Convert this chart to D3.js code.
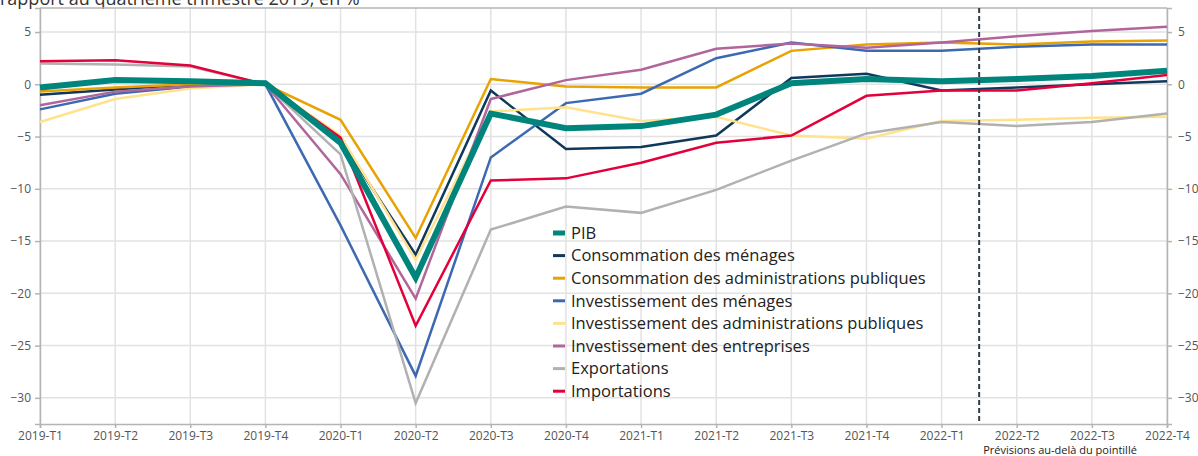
<!DOCTYPE html>
<html>
<head>
<meta charset="utf-8">
<script src="https://cdn.jsdelivr.net/npm/d3@7"></script>
<style>
  body { margin: 0; background: #fff; }
  svg { display: block; font-family: "Open Sans", sans-serif; }
</style>
</head>
<body>
<svg id="chart" width="1198" height="456"></svg>
<script>
// trimestres
var quarters = ["2019-T1", "2019-T2", "2019-T3", "2019-T4",
                "2020-T1", "2020-T2", "2020-T3", "2020-T4",
                "2021-T1", "2021-T2", "2021-T3", "2021-T4",
                "2022-T1", "2022-T2", "2022-T3", "2022-T4"];

var yTicks = [5, 0, -5, -10, -15, -20, -25, -30];

// écarts par rapport au 2019-T4, en %
var pib       = [-0.3, 0.4, 0.3, 0.1, -5.6, -18.5, -2.8, -4.2, -4.0, -2.9, 0.1, 0.5, 0.3, 0.5, 0.8, 1.3];
var consoMen  = [-1.0, -0.5, 0.0, 0.0, -5.3, -16.3, -0.6, -6.2, -6.0, -4.9, 0.6, 1.0, -0.6, -0.3, 0.0, 0.3];
var consoAdm  = [-0.7, -0.3, 0.0, 0.0, -3.4, -14.7, 0.5, -0.2, -0.3, -0.3, 3.2, 3.8, 4.0, 3.8, 4.1, 4.2];
var invMen    = [-2.4, -0.9, -0.2, 0.0, -13.5, -27.9, -7.0, -1.8, -0.9, 2.5, 4.0, 3.2, 3.2, 3.6, 3.8, 3.8];
var invAdm    = [-3.6, -1.4, -0.4, 0.0, -4.9, -16.8, -2.6, -2.2, -3.5, -3.1, -4.9, -5.2, -3.5, -3.4, -3.2, -3.1];
var invEnt    = [-2.0, -0.7, -0.2, 0.0, -8.6, -20.5, -1.4, 0.4, 1.4, 3.4, 3.9, 3.5, 4.0, 4.6, 5.1, 5.5];
var exportsV  = [2.0, 1.9, 1.7, 0.0, -6.7, -30.5, -13.9, -11.7, -12.3, -10.1, -7.3, -4.7, -3.6, -4.0, -3.6, -2.8];
var importsV  = [2.2, 2.3, 1.8, 0.0, -5.1, -23.1, -9.2, -9.0, -7.5, -5.6, -4.9, -1.1, -0.6, -0.6, 0.1, 0.9];

var series = [
  {name: "PIB", values: pib, color: "#00857d", width: 6},
  {name: "Consommation des ménages", values: consoMen, color: "#10385a", width: 2.5},
  {name: "Consommation des administrations publiques", values: consoAdm, color: "#e8a202", width: 2.5},
  {name: "Investissement des ménages", values: invMen, color: "#3d69b3", width: 2.5},
  {name: "Investissement des administrations publiques", values: invAdm, color: "#ffe38c", width: 2.5},
  {name: "Investissement des entreprises", values: invEnt, color: "#b0669b", width: 2.5},
  {name: "Exportations", values: exportsV, color: "#b1b1b1", width: 2.5},
  {name: "Importations", values: importsV, color: "#e3003b", width: 2.5}
];

var svg = d3.select("#chart");
var mLeft = 40, mRight = 1167, mTop = 8, mBottom = 424;

var x = d3.scaleLinear().domain([0, quarters.length - 1]).range([mLeft, mRight]);
var y = d3.scaleLinear().domain([-32.5, 7.3]).range([mBottom, mTop]);

// titre (coupé en haut, comme l'original)
svg.append("text")
  .attr("x", 0).attr("y", 5)
  .attr("font-size", 18).attr("fill", "#333")
  .text("rapport au quatrième trimestre 2019, en %");

// grille
svg.append("g").selectAll("line").data(yTicks).join("line")
  .attr("x1", mLeft).attr("x2", mRight)
  .attr("y1", function(d) { return y(d); }).attr("y2", function(d) { return y(d); })
  .attr("stroke", "#e2e2e2").attr("stroke-width", 1.5);

svg.append("g").selectAll("line").data(quarters).join("line")
  .attr("x1", function(d, i) { return x(i); }).attr("x2", function(d, i) { return x(i); })
  .attr("y1", mTop).attr("y2", mBottom)
  .attr("stroke", "#e2e2e2").attr("stroke-width", 1.5);

// axes
var fmt = function(d) { return d < 0 ? "\u2212" + Math.abs(d) : d; };

var gl = svg.append("g").attr("transform", "translate(" + mLeft + ",0)")
  .call(d3.axisLeft(y).tickValues(yTicks).tickFormat(fmt).tickSize(5).tickPadding(4));
var gr = svg.append("g").attr("transform", "translate(" + mRight + ",0)")
  .call(d3.axisRight(y).tickValues(yTicks).tickFormat(fmt).tickSize(5).tickPadding(6));
var gb = svg.append("g").attr("transform", "translate(0," + mBottom + ")")
  .call(d3.axisBottom(x).tickValues(d3.range(quarters.length))
    .tickFormat(function(i) { return quarters[i]; }).tickSize(4).tickPadding(3));

[gl, gr, gb].forEach(function(g) {
  g.select(".domain").attr("stroke", "#b4b4b4").attr("stroke-width", 1.5);
  g.selectAll(".tick line").attr("stroke", "#b4b4b4").attr("stroke-width", 1.5);
  g.selectAll(".tick text").attr("fill", "#555").attr("font-size", 12)
    .attr("font-family", "Open Sans, sans-serif");
});

svg.append("line")
  .attr("x1", mLeft).attr("x2", mRight).attr("y1", mTop).attr("y2", mTop)
  .attr("stroke", "#b4b4b4").attr("stroke-width", 1.5);

// lignes
var line = d3.line()
  .x(function(d, i) { return x(i); })
  .y(function(d) { return y(d); });

var drawOrder = series.slice(1).concat([series[0]]);
svg.append("g").selectAll("path").data(drawOrder).join("path")
  .attr("d", function(d) { return line(d.values); })
  .attr("fill", "none")
  .attr("stroke", function(d) { return d.color; })
  .attr("stroke-width", function(d) { return d.width; })
  .attr("stroke-linejoin", "miter");

// pointillé des prévisions
svg.append("line")
  .attr("x1", x(12.5)).attr("x2", x(12.5))
  .attr("y1", mTop).attr("y2", mBottom)
  .attr("stroke", "#333a44").attr("stroke-width", 2)
  .attr("stroke-dasharray", "5,3");

svg.append("text")
  .attr("x", 1060).attr("y", 454)
  .attr("text-anchor", "middle").attr("font-size", 11).attr("fill", "#222")
  .text("Prévisions au-delà du pointillé");

// légende
var leg = svg.append("g").attr("transform", "translate(553,233)");
var items = leg.selectAll("g").data(series).join("g")
  .attr("transform", function(d, i) { return "translate(0," + (i * 22.6) + ")"; });
items.append("line")
  .attr("x1", 0).attr("x2", 12).attr("y1", 0).attr("y2", 0)
  .attr("stroke", function(d) { return d.color; })
  .attr("stroke-width", function(d) { return d.width === 6 ? 5 : 3; });
items.append("text")
  .attr("x", 18).attr("y", 0).attr("dy", "0.35em")
  .attr("font-size", 16.5).attr("fill", "#222")
  .text(function(d) { return d.name; });
</script>
</body>
</html>
